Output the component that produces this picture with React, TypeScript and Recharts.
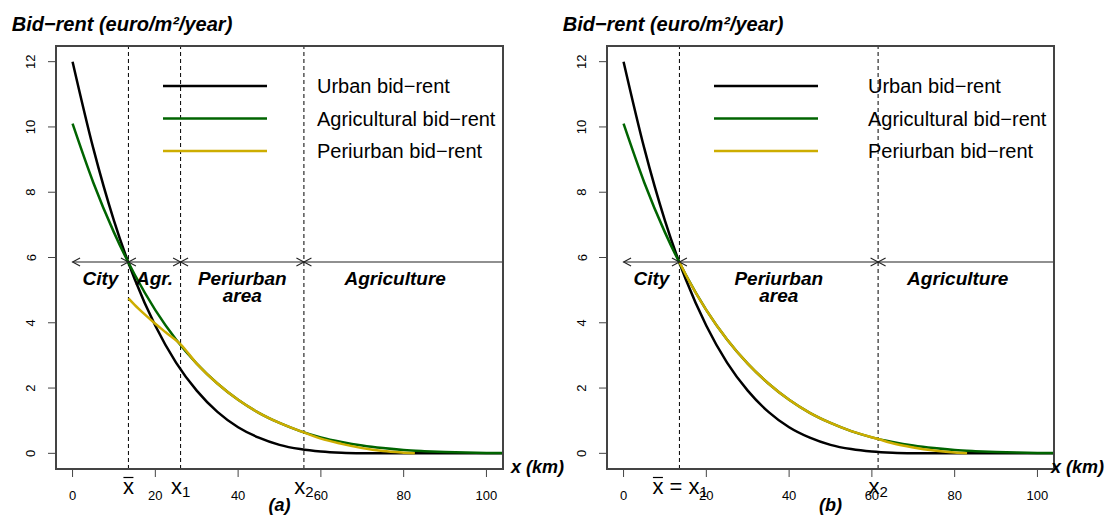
import React from 'react';
import {
  LineChart, Line, XAxis, YAxis, ReferenceLine, ReferenceDot, Legend,
} from 'recharts';

// distance to the centre (km) and bid-rents
const distanceKm = [0, 5, 10, 15, 20, 25, 30, 35, 40, 45, 50, 55, 60, 65, 70, 75, 80, 85, 90, 95, 100, 104];
const urbanRent = [12.0, 9.35, 7.13, 5.34, 3.91, 2.78, 1.92, 1.27, 0.8, 0.48, 0.26, 0.13, 0.055, 0.018, 0.004, 0.001, 0, 0, 0, 0, 0, 0];
const agriRent = [10.1, 8.3, 6.77, 5.48, 4.39, 3.49, 2.75, 2.14, 1.64, 1.24, 0.93, 0.68, 0.49, 0.35, 0.24, 0.16, 0.1, 0.065, 0.039, 0.022, 0.012, 0.008];

// periurban bid-rent, panel (a) and panel (b)
const periKmA = [13.5, 15, 17.5, 20, 22.5, 26.1, 30, 35, 40, 45, 50, 55.9, 60, 65, 70, 75, 80, 82.7];
const periRentA = [4.75, 4.55, 4.25, 3.97, 3.71, 3.34, 2.75, 2.14, 1.64, 1.24, 0.93, 0.64, 0.45, 0.29, 0.16, 0.07, 0.02, 0];
const periKmB = [13.5, 15, 20, 25, 30, 35, 40, 45, 50, 55, 61.5, 65, 70, 75, 80, 83];
const periRentB = [5.86, 5.48, 4.39, 3.49, 2.75, 2.14, 1.64, 1.24, 0.93, 0.68, 0.44, 0.31, 0.18, 0.085, 0.025, 0];

// frontiers
const xBar = 13.5;
const x1A = 26.1;
const x2A = 55.9;
const x2B = 61.5;
const frontierRent = 5.86;

const xTicks = [0, 20, 40, 60, 80, 100];
const yTicks = [0, 2, 4, 6, 8, 10, 12];
const legendNames = ['Urban bid\u2212rent', 'Agricultural bid\u2212rent', 'Periurban bid\u2212rent'];
const seriesColors = ['#000000', '#006400', '#CDAD00'];
const titleText = 'Bid\u2212rent (euro/m\u00b2/year)';

const FONT = "'Liberation Sans', Arial, Helvetica, sans-serif";
const X_DOMAIN: [number, number] = [-4, 104];
const Y_DOMAIN: [number, number] = [-0.48, 12.48];

// plot area inside each 551x517 panel
const PLOT = { left: 56, top: 46, width: 447, height: 423 };

const toPoints = (xs: number[], ys: number[]) => xs.map((x, i) => ({ x, rent: ys[i] }));

const urbanData = toPoints(distanceKm, urbanRent);
const agriData = toPoints(distanceKm, agriRent);

const XTick = (p: any) => (
  <text x={p.x} y={500} textAnchor="middle" fontSize={13} fontFamily={FONT} fill="#000">
    {p.payload.value}
  </text>
);

const YTick = (p: any) => (
  <text
    x={35.5} y={p.y} textAnchor="middle" fontSize={13} fontFamily={FONT} fill="#000"
    transform={`rotate(-90, 35.5, ${p.y})`}
  >
    {p.payload.value}
  </text>
);

// arrow heads on the frontier line
const arrowShape = (kind: 'left' | 'both') => (p: any) => {
  const { cx, cy } = p;
  return (
    <g stroke="#222" strokeWidth={1.1} fill="none">
      <polyline points={`${cx + 7.5},${cy - 4} ${cx},${cy} ${cx + 7.5},${cy + 4}`} />
      {kind === 'both' && <polyline points={`${cx - 7.5},${cy - 4} ${cx},${cy} ${cx - 7.5},${cy + 4}`} />}
    </g>
  );
};

const zoneShape = (lines: string[]) => (p: any) => (
  <text x={p.cx} y={p.cy + 23} textAnchor="middle" fontSize={19} fontWeight="bold"
    fontStyle="italic" fontFamily={FONT} fill="#000">
    {lines.map((l, i) => (
      <tspan key={i} x={p.cx} dy={i === 0 ? 0 : 17}>{l}</tspan>
    ))}
  </text>
);

const cutShape = (kind: 'bar' | '1' | '2' | 'bar1') => (p: any) => {
  const { cx } = p;
  const base = p.cy + 25;
  if (kind === 'bar') {
    return (
      <g>
        <text x={cx} y={base} textAnchor="middle" fontSize={22} fontFamily={FONT} fill="#000">x</text>
        <line x1={cx - 5} x2={cx + 5} y1={base - 16.5} y2={base - 16.5} stroke="#000" strokeWidth={1.2} />
      </g>
    );
  }
  if (kind === 'bar1') {
    const start = cx - 27;
    return (
      <g>
        <text x={start} y={base} fontSize={22} fontFamily={FONT} fill="#000">
          x = x<tspan fontSize={15} dy={3}>1</tspan>
        </text>
        <line x1={start + 0.5} x2={start + 10.5} y1={base - 16.5} y2={base - 16.5} stroke="#000" strokeWidth={1.2} />
      </g>
    );
  }
  return (
    <text x={cx - 9.7} y={base} fontSize={22} fontFamily={FONT} fill="#000">
      x<tspan fontSize={15} dy={3}>{kind}</tspan>
    </text>
  );
};

const renderLegend = () => (
  <svg width={360} height={95} style={{ overflow: 'visible' }}>
    {legendNames.map((name, i) => (
      <g key={name}>
        <line x1={0} x2={104} y1={16 + i * 32.5} y2={16 + i * 32.5} stroke={seriesColors[i]} strokeWidth={2.5} />
        <text x={154} y={23 + i * 32.5} fontSize={20} fontFamily={FONT} fill="#000">{name}</text>
      </g>
    ))}
  </svg>
);

interface PanelProps {
  left: number;
  tag: string;
  periData: { x: number; rent: number }[];
  cuts: { x: number; kind: 'bar' | '1' | '2' | 'bar1' }[];
  zones: { x: number; lines: string[] }[];
  kmLabelX: number;
}

const Panel: React.FC<PanelProps> = ({ left, tag, periData, cuts, zones, kmLabelX }) => (
  <div style={{ position: 'absolute', left, top: 0, width: 551, height: 517 }}>
    <LineChart width={551} height={517} margin={{ top: PLOT.top, right: 551 - PLOT.left - PLOT.width, bottom: 0, left: 0 }}>
      <XAxis
        type="number" dataKey="x" domain={X_DOMAIN} ticks={xTicks} allowDataOverflow
        axisLine={{ stroke: '#444', strokeWidth: 2 }} tickSize={8} tickLine={{ stroke: '#444' }}
        tick={<XTick />} height={517 - PLOT.top - PLOT.height}
      />
      <YAxis
        type="number" domain={Y_DOMAIN} ticks={yTicks} allowDataOverflow
        axisLine={{ stroke: '#444', strokeWidth: 2 }} tickSize={8} tickLine={{ stroke: '#444' }}
        tick={<YTick />} width={PLOT.left}
      />
      {cuts.map((c) => (
        <ReferenceLine key={`v${c.x}`} x={c.x} stroke="#000" strokeWidth={1} strokeDasharray="4 3" />
      ))}
      <ReferenceLine segment={[{ x: 0, y: frontierRent }, { x: X_DOMAIN[1], y: frontierRent }]}
        stroke="#222" strokeWidth={1.1} />
      <ReferenceDot x={0} y={frontierRent} r={0} shape={arrowShape('left')} ifOverflow="visible" />
      {cuts.map((c) => (
        <ReferenceDot key={`a${c.x}`} x={c.x} y={frontierRent} r={0} shape={arrowShape('both')} ifOverflow="visible" />
      ))}
      <Line data={urbanData} dataKey="rent" name={legendNames[0]} stroke={seriesColors[0]} strokeWidth={2.5}
        type="monotone" dot={false} activeDot={false} isAnimationActive={false} />
      <Line data={agriData} dataKey="rent" name={legendNames[1]} stroke={seriesColors[1]} strokeWidth={2.5}
        type="monotone" dot={false} activeDot={false} isAnimationActive={false} />
      <Line data={periData} dataKey="rent" name={legendNames[2]} stroke={seriesColors[2]} strokeWidth={2.5}
        type="monotone" dot={false} activeDot={false} isAnimationActive={false} />
      {zones.map((z) => (
        <ReferenceDot key={`z${z.x}`} x={z.x} y={frontierRent} r={0} shape={zoneShape(z.lines)} ifOverflow="visible" />
      ))}
      {cuts.map((c) => (
        <ReferenceDot key={`c${c.x}`} x={c.x} y={Y_DOMAIN[0]} r={0} shape={cutShape(c.kind)} ifOverflow="visible" />
      ))}
      <Legend layout="vertical" align="center" verticalAlign="middle" content={renderLegend}
        wrapperStyle={{ left: 163, top: 70, width: 360, height: 95 }} />
    </LineChart>
    <svg width={600} height={517} style={{ position: 'absolute', left: 0, top: 0, overflow: 'visible', pointerEvents: 'none' }}>
      {/* plot frame, as R's box() */}
      <rect x={PLOT.left} y={PLOT.top} width={PLOT.width} height={PLOT.height} fill="none" stroke="#444" strokeWidth={2} />
      <text x={11.7} y={31} fontSize={20} fontWeight="bold" fontStyle="italic" fontFamily={FONT} fill="#000">
        {titleText}
      </text>
      <text x={kmLabelX} y={473} fontSize={18} fontWeight="bold" fontStyle="italic" fontFamily={FONT} fill="#000">
        x (km)
      </text>
      <text x={279.5} y={511} textAnchor="middle" fontSize={18} fontWeight="bold" fontStyle="italic" fontFamily={FONT} fill="#000">
        {tag}
      </text>
    </svg>
  </div>
);

export default function App() {
  return (
    <div style={{ position: 'absolute', left: 0, top: 0, width: 1107, height: 517, background: '#fff', overflow: 'hidden' }}>
      <Panel
        left={0}
        tag="(a)"
        periData={toPoints(periKmA, periRentA)}
        cuts={[{ x: xBar, kind: 'bar' }, { x: x1A, kind: '1' }, { x: x2A, kind: '2' }]}
        zones={[
          { x: (0 + xBar) / 2, lines: ['City'] },
          { x: (xBar + x1A) / 2, lines: ['Agr.'] },
          { x: (x1A + x2A) / 2, lines: ['Periurban', 'area'] },
          { x: (x2A + 100) / 2, lines: ['Agriculture'] },
        ]}
        kmLabelX={511}
      />
      <Panel
        left={551}
        tag="(b)"
        periData={toPoints(periKmB, periRentB)}
        cuts={[{ x: xBar, kind: 'bar1' }, { x: x2B, kind: '2' }]}
        zones={[
          { x: (0 + xBar) / 2, lines: ['City'] },
          { x: (xBar + x2B) / 2, lines: ['Periurban', 'area'] },
          { x: (x2B + 100) / 2, lines: ['Agriculture'] },
        ]}
        kmLabelX={500}
      />
    </div>
  );
}
